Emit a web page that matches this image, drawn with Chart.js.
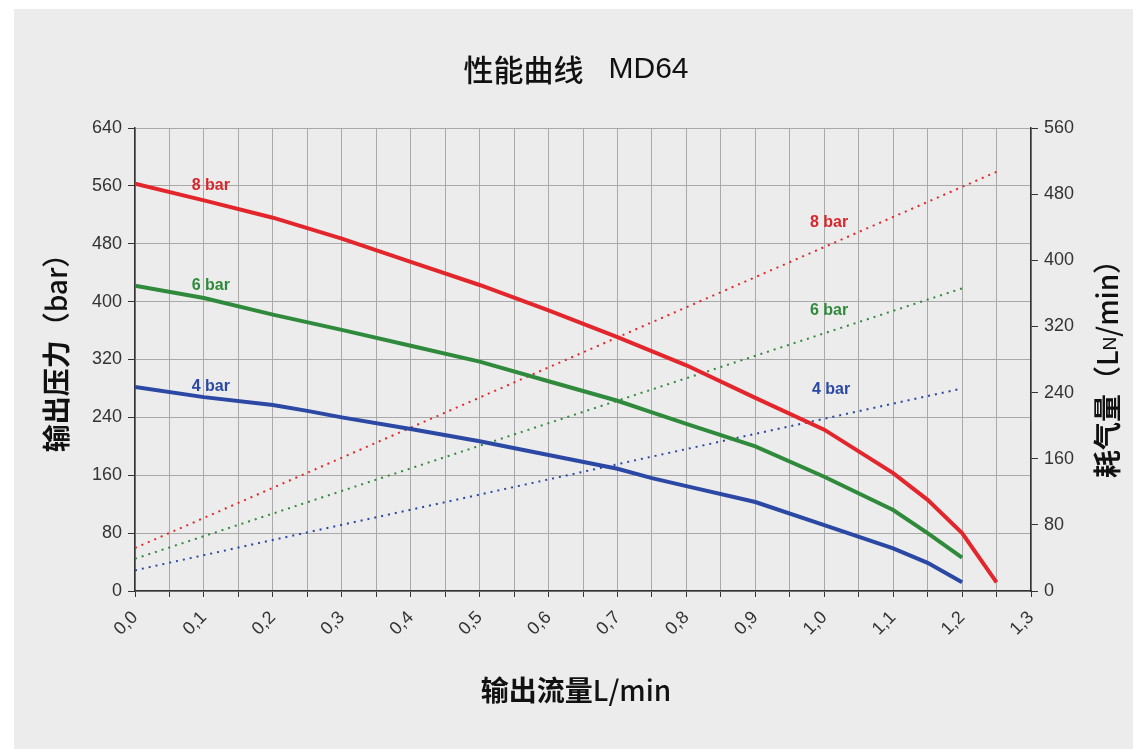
<!DOCTYPE html>
<html>
<head>
<meta charset="utf-8">
<script src="https://cdn.jsdelivr.net/npm/chart.js@4"></script>
<style>
  body { margin: 0; background: #ffffff; }
  .panel { position: absolute; left: 14px; top: 9px; right: 0; bottom: 0; background: #ececec; }
  canvas { position: absolute; left: 0; top: 0; }
</style>
</head>
<body>
<div class="panel"></div>
<canvas id="perfChart" width="1133" height="749"></canvas>
<script>
// output pressure (left axis, bar) vs. output flow (L/min)
const flow8 = [0, 0.1, 0.2, 0.3, 0.4, 0.5, 0.6, 0.7, 0.8, 0.9, 1.0, 1.1, 1.15, 1.2, 1.25];
const press8 = [563, 540, 516, 487, 455, 423, 388, 351, 312, 267, 223, 163, 126, 80, 12];
const flow6 = [0, 0.1, 0.2, 0.3, 0.4, 0.5, 0.6, 0.7, 0.75, 0.8, 0.9, 1.0, 1.1, 1.15, 1.2];
const press6 = [422, 405, 382, 361, 339, 317, 290, 263, 247, 231, 200, 158, 112, 80, 46];
const flow4 = [0, 0.1, 0.2, 0.25, 0.3, 0.4, 0.5, 0.6, 0.7, 0.75, 0.8, 0.9, 1.0, 1.1, 1.15, 1.2];
const press4 = [282, 268, 257, 249, 240, 224, 207, 188, 169, 156, 145, 123, 91, 59, 39, 12];

// air consumption (right axis, LN/min)
const airFlow8 = [0, 0.5, 1.0, 1.25];
const air8 = [52, 234, 416, 507];
const airFlow6 = [0, 0.6, 1.2];
const air6 = [39, 203, 366];
const airFlow4 = [0, 0.6, 1.2];
const air4 = [25, 135, 245];

// labels placed in the plot: [text, x, value, axis]
const seriesLabels = [
  ["8 bar", 0.11, 560, "y"],
  ["6 bar", 0.11, 422, "y"],
  ["4 bar", 0.11, 282, "y"],
  ["8 bar", 1.007, 446, "y1"],
  ["6 bar", 1.007, 339, "y1"],
  ["4 bar", 1.01, 244, "y1"],
];
const labelColors = ["#d9262c", "#2f8a3c", "#2a48a4", "#d9262c", "#2f8a3c", "#2a48a4"];

const RED = "#e3262b";
const GREEN = "#2f8a3c";
const BLUE = "#2a48a4";

const toPoints = (xs, ys) => xs.map((x, i) => ({ x: x, y: ys[i] }));

const cjk = "'Noto Sans CJK SC', 'Noto Sans', sans-serif";
const latin = "'Liberation Sans', Arial, sans-serif";

// draws a run of differently styled pieces centred on (0,0)
function drawRun(ctx, parts) {
  let total = 0;
  parts.forEach(p => { ctx.font = p[1]; total += ctx.measureText(p[0]).width; });
  let cx = -total / 2;
  ctx.textAlign = "left";
  parts.forEach(p => {
    ctx.font = p[1];
    ctx.fillText(p[0], cx, p[2]);
    cx += ctx.measureText(p[0]).width;
  });
}

const textPlugin = {
  id: "texts",
  afterDraw(chart) {
    const ctx = chart.ctx;
    const xs = chart.scales.x;
    ctx.save();
    ctx.fillStyle = "#111";
    ctx.textAlign = "center";
    ctx.textBaseline = "middle";

    ctx.save();
    ctx.translate(576, 70);
    drawRun(ctx, [
      ["性能曲线", "500 30px " + cjk, 0],
      ["   MD64", "30px " + latin, 0],
    ]);
    ctx.restore();

    ctx.save();
    ctx.translate(576, 690);
    drawRun(ctx, [
      ["输出流量", "bold 28px " + cjk, 0],
      ["L/min", "500 28px " + cjk, 0],
    ]);
    ctx.restore();

    // left title
    ctx.save();
    ctx.translate(56, 346);
    ctx.rotate(-Math.PI / 2);
    drawRun(ctx, [
      ["输出压力", "bold 28px " + cjk, 0],
      ["（bar）", "500 28px " + cjk, 0],
    ]);
    ctx.restore();

    // right title with subscript N
    ctx.save();
    ctx.translate(1107, 362);
    ctx.rotate(-Math.PI / 2);
    drawRun(ctx, [
      ["耗气量", "bold 28px " + cjk, 0],
      ["（L", "500 28px " + cjk, 0],
      ["N", "19px " + latin, 4],
      ["/min）", "500 28px " + cjk, 0],
    ]);
    ctx.restore();

    // series labels
    ctx.textAlign = "center";
    ctx.font = "bold 16px " + latin;
    seriesLabels.forEach((l, i) => {
      ctx.fillStyle = labelColors[i];
      ctx.fillText(l[0], xs.getPixelForValue(l[1]), chart.scales[l[3]].getPixelForValue(l[2]));
    });
    ctx.restore();
  },
};

const solid = (label, xs, ys, color) => ({
  label: label,
  data: toPoints(xs, ys),
  borderColor: color,
  borderWidth: 4,
  yAxisID: "y",
  pointRadius: 0,
  tension: 0,
});
const dotted = (label, xs, ys, color) => ({
  label: label,
  data: toPoints(xs, ys),
  borderColor: color,
  borderWidth: 2,
  borderDash: [2, 5],
  yAxisID: "y1",
  pointRadius: 0,
  tension: 0,
});

const ctx = document.getElementById("perfChart").getContext("2d");
new Chart(ctx, {
  type: "line",
  data: {
    datasets: [
      solid("8 bar", flow8, press8, RED),
      solid("6 bar", flow6, press6, GREEN),
      solid("4 bar", flow4, press4, BLUE),
      dotted("8 bar air", airFlow8, air8, RED),
      dotted("6 bar air", airFlow6, air6, GREEN),
      dotted("4 bar air", airFlow4, air4, BLUE),
    ],
  },
  options: {
    responsive: false,
    animation: false,
    layout: { padding: { top: 128, left: 0, right: 0, bottom: 0 } },
    plugins: {
      legend: { display: false },
      title: { display: false },
      tooltip: { enabled: false },
    },
    scales: {
      x: {
        type: "linear",
        min: 0,
        max: 1.3,
        afterFit: s => { s.height = 158; },
        afterBuildTicks: s => {
          s.ticks = [];
          for (let i = 0; i <= 26; i++) s.ticks.push({ value: i * 0.05 });
        },
        border: { color: "#333", width: 1.5 },
        grid: { color: "#a9a9a9", lineWidth: 1, tickLength: 6, tickColor: "#333" },
        ticks: {
          color: "#333",
          font: { family: latin, size: 18 },
          minRotation: 45,
          maxRotation: 45,
          padding: 10,
          autoSkip: false,
          callback: (v, i) => (i % 2 === 0 ? (i * 0.05).toFixed(1).replace(".", ",") : ""),
        },
      },
      y: {
        position: "left",
        min: 0,
        max: 640,
        afterFit: s => { s.width = 135; },
        border: { color: "#333", width: 1.5 },
        grid: { color: "#a9a9a9", lineWidth: 1, tickLength: 7, tickColor: "#333" },
        ticks: {
          stepSize: 80,
          color: "#333",
          padding: 6,
          font: { family: latin, size: 18 },
        },
      },
      y1: {
        position: "right",
        min: 0,
        max: 560,
        afterFit: s => { s.width = 102; },
        border: { color: "#333", width: 1.5 },
        grid: { drawOnChartArea: false, tickLength: 7, tickColor: "#333" },
        ticks: {
          stepSize: 80,
          color: "#333",
          padding: 6,
          font: { family: latin, size: 18 },
        },
      },
    },
  },
  plugins: [textPlugin],
});
</script>
</body>
</html>
